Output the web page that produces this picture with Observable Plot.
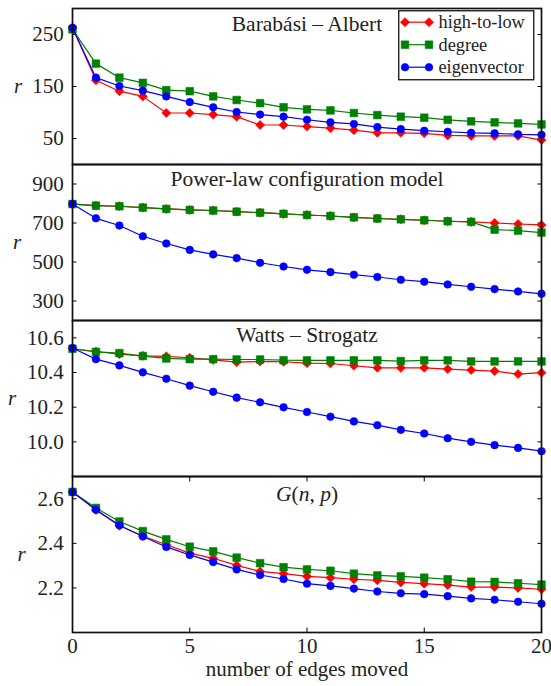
<!DOCTYPE html>
<html><head><meta charset="utf-8">
<script src="https://cdn.jsdelivr.net/npm/d3@7"></script>
<script src="https://cdn.jsdelivr.net/npm/@observablehq/plot@0.6"></script>
<style>
body{margin:0;background:#fff;}
#chart{position:relative;width:551px;height:686px;overflow:hidden;}
#chart svg{position:absolute;left:0;font-family:"Liberation Serif",serif !important;}
#chart svg text{font-family:"Liberation Serif",serif !important;}
</style></head><body><div id="chart"></div>
<script>
// ---- data ----
const edgesMoved = [0,1,2,3,4,5,6,7,8,9,10,11,12,13,14,15,16,17,18,19,20];
const strategies = ["high-to-low", "degree", "eigenvector"];
const xTicks = [0,5,10,15,20];

const panelTitles = ["Barabási – Albert", "Power-law configuration model", "Watts – Strogatz", "G(n, p)"];

const baHighToLow = [263,162,141,131,99,99,96,92,76,76,73,70,66,61,61,60,56,55,55,55,47];
const baDegree    = [260,194,167,157,143,141,131,124,118,110,106,104,99,95,92,90,86,83,81,79,77];
const baEigen     = [263,167,151,142,131,120,110,101,96,92,86,81,78,72,68,65,63,61,60,58,57];
const baTicks = [50,150,250];

const plHighToLow = [797,789,786,779,772,767,764,758,753,747,741,736,729,723,719,714,709,706,700,695,690];
const plDegree    = [797,789,786,779,772,767,764,758,753,747,741,736,729,723,719,714,709,706,666,661,651];
const plEigen     = [798,724,687,632,595,562,539,520,496,477,460,448,435,423,409,399,385,373,361,349,337];
const plTicks = [300,500,700,900];

const wsHighToLow = [10.537,10.521,10.506,10.496,10.493,10.485,10.473,10.460,10.464,10.462,10.454,10.452,10.439,10.427,10.427,10.427,10.420,10.414,10.408,10.391,10.399];
const wsDegree    = [10.537,10.519,10.512,10.495,10.481,10.477,10.477,10.475,10.475,10.471,10.470,10.470,10.470,10.470,10.466,10.470,10.470,10.464,10.464,10.464,10.464];
const wsEigen     = [10.541,10.477,10.441,10.401,10.364,10.324,10.289,10.255,10.228,10.199,10.172,10.145,10.118,10.096,10.069,10.048,10.021,10.000,9.981,9.965,9.946];
const wsTicks = [10.0,10.2,10.4,10.6];

const gnpHighToLow = [2.631,2.550,2.479,2.433,2.394,2.356,2.333,2.301,2.274,2.264,2.252,2.246,2.239,2.234,2.225,2.219,2.213,2.204,2.204,2.200,2.194];
const gnpDegree    = [2.631,2.559,2.498,2.455,2.418,2.385,2.364,2.336,2.311,2.293,2.283,2.277,2.264,2.256,2.252,2.246,2.239,2.228,2.227,2.221,2.215];
const gnpEigen     = [2.630,2.551,2.481,2.431,2.384,2.348,2.316,2.283,2.258,2.240,2.219,2.209,2.197,2.184,2.176,2.172,2.163,2.153,2.147,2.138,2.129];
const gnpTicks = [2.2,2.4,2.6];

const yLabel = "r";
const xLabel = "number of edges moved";

// ---- styles ----
const FONT = "Liberation Serif";
const FS = 21;        // tick labels, axis labels
const TFS = 21.5;     // panel titles
const LFS = 18.3;     // legend
const TEXT = "#222";
const styles = [
  {color: "#ff0000", symbol: "diamond2", r: 4.1},
  {color: "#008000", symbol: "square", r: 4.3},
  {color: "#0000ff", symbol: "circle", r: 3.8}
];

const panels = [
  {title: panelTitles[0], series: [baHighToLow, baDegree, baEigen], domain: [0,300], ticks: baTicks, fmt: d3.format("d"), rx: -54.5, ty: 16.1},
  {title: panelTitles[1], series: [plHighToLow, plDegree, plEigen], domain: [200,1000], ticks: plTicks, fmt: d3.format("d"), rx: -55.5, ty: 15.1},
  {title: panelTitles[2], series: [wsHighToLow, wsDegree, wsEigen], domain: [9.8,10.7], ticks: wsTicks, fmt: d3.format(".1f"), rx: -60.5, ty: 14.6},
  {title: panelTitles[3], series: [gnpHighToLow, gnpDegree, gnpEigen], domain: [2.0,2.7], ticks: gnpTicks, fmt: d3.format(".1f"), rx: -51, ty: 18}
];

const chart = document.getElementById("chart");
const PH = 156;
const layout = [
  {top: 0, mt: 8, mb: 1},
  {top: 163, mt: 1, mb: 1},
  {top: 319, mt: 1, mb: 1},
  {top: 475, mt: 1, mb: 55}
];

panels.forEach((p, pi) => {
  const L = layout[pi];
  const last = pi === panels.length - 1;
  const seriesMarks = [];
  strategies.forEach((s, si) => {
    const rows = edgesMoved.map((x, j) => ({x, r: p.series[si][j], s}));
    seriesMarks.push(Plot.line(rows, {x: "x", y: "r", stroke: styles[si].color, strokeWidth: 1.2}));
    seriesMarks.push(Plot.dot(rows, {x: "x", y: "r", fill: styles[si].color, stroke: styles[si].color, strokeWidth: 0.6, symbol: styles[si].symbol, r: styles[si].r}));
  });
  const marks = [
    Plot.axisY(p.ticks, {anchor: "left", tickSize: 0, tickPadding: 8.7, tickFormat: p.fmt, label: null, fontSize: FS, fontFamily: FONT}),
    Plot.axisY(p.ticks, {anchor: "left", tickSize: -4.5, fill: "none", label: null, stroke: "#000"}),
    Plot.axisY(p.ticks, {anchor: "right", tickSize: -4.5, fill: "none", label: null, stroke: "#000"}),
    ...seriesMarks,
    Plot.frame({stroke: "#111", strokeWidth: 1.7}),
    Plot.text([p.title], {frameAnchor: "top", lineAnchor: "middle", dy: p.ty, fontSize: TFS, fontFamily: FONT, fill: TEXT, text: d => d}),
    Plot.text([yLabel], {frameAnchor: "left", lineAnchor: "middle", dx: p.rx, fontSize: FS, fontFamily: FONT, fontStyle: "italic", fill: TEXT, textAnchor: "middle", text: d => d})
  ];
  if (last) {
    marks.push(
      Plot.axisX(xTicks, {anchor: "bottom", tickSize: 0, tickPadding: 5.6, label: null, fontSize: FS, fontFamily: FONT}),
      Plot.axisX(xTicks, {anchor: "bottom", tickSize: -4.5, fill: "none", label: null, stroke: "#000"}),
      Plot.axisX(xTicks, {anchor: "top", tickSize: -4.5, fill: "none", label: null, stroke: "#000"}),
      Plot.text([xLabel], {frameAnchor: "bottom", lineAnchor: "middle", dy: 37, fontSize: FS, fontFamily: FONT, fill: TEXT, text: d => d})
    );
  }
  const svg = Plot.plot({
    width: 551,
    height: L.mt + PH + L.mb,
    marginLeft: 72,
    marginRight: 10,
    marginTop: L.mt,
    marginBottom: L.mb,
    style: {fontFamily: "Liberation Serif", fontSize: FS + "px", color: TEXT, background: "transparent", overflow: "visible"},
    x: last ? {domain: [0, 20]} : {domain: [0, 20], axis: null},
    y: {domain: p.domain},
    marks
  });
  svg.style.top = L.top + "px";
  chart.appendChild(svg);

  if (pi === 3) {
    const t = d3.select(svg).selectAll("text").filter(function () { return this.textContent === "G(n, p)"; });
    t.each(function () {
      const el = d3.select(this);
      el.text(null);
      [["G", true], ["(", false], ["n", true], [", ", false], ["p", true], [")", false]].forEach(([s, it]) => {
        el.append("tspan").attr("font-style", it ? "italic" : "normal").text(s);
      });
    });
  }
});

// ---- legend (panel 1, upper right) ----
const leg = d3.select(chart).append("svg")
  .attr("width", 137).attr("height", 71)
  .style("left", "397.5px").style("top", "9.5px");
leg.append("rect").attr("x", 0.75).attr("y", 0.75).attr("width", 135).attr("height", 69)
  .attr("fill", "#fff").attr("stroke", "#111").attr("stroke-width", 1.3);
const symMap = {diamond2: d3.symbolDiamond2, square: d3.symbolSquare, circle: d3.symbolCircle};
strategies.forEach((s, i) => {
  const y = 12.2 + i * 22.5;
  const g = leg.append("g");
  g.append("line").attr("x1", 7).attr("x2", 31).attr("y1", y).attr("y2", y)
    .attr("stroke", styles[i].color).attr("stroke-width", 1.2);
  [7, 31].forEach(x => {
    g.append("path").attr("transform", `translate(${x},${y})`)
      .attr("d", d3.symbol(symMap[styles[i].symbol], Math.PI * styles[i].r * styles[i].r)())
      .attr("fill", styles[i].color).attr("stroke", styles[i].color).attr("stroke-width", 0.6);
  });
  g.append("text").attr("x", 40.5).attr("y", y).attr("dy", "0.32em")
    .attr("font-family", FONT).attr("font-size", LFS).attr("fill", TEXT).text(s);
});
</script></body></html>
